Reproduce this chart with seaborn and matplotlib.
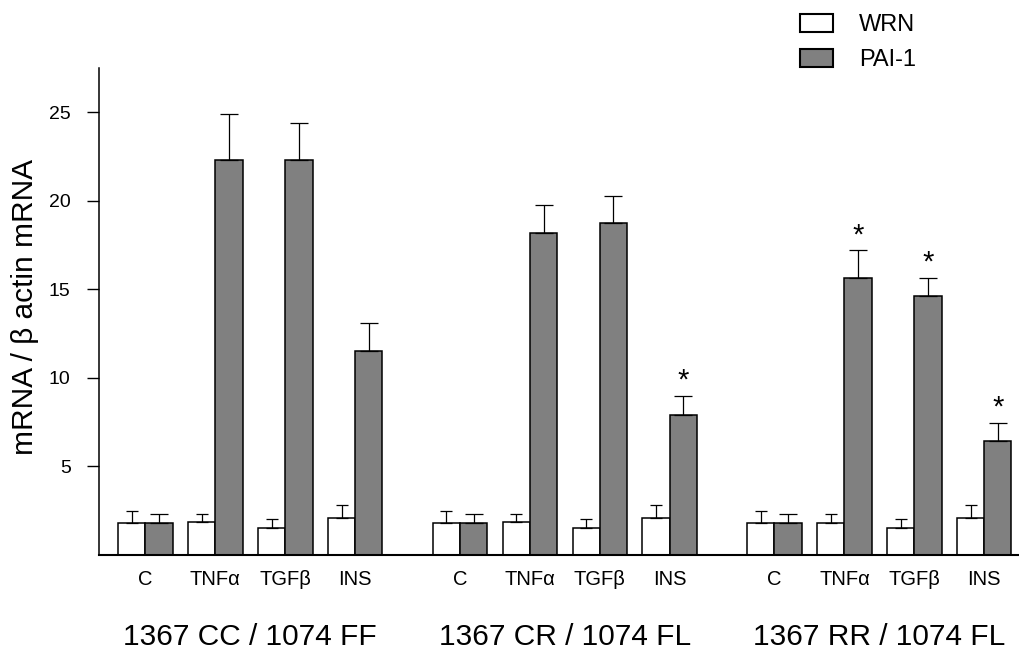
import numpy as np
import pandas as pd
import seaborn as sns
import matplotlib.pyplot as plt
import matplotlib.transforms as mtransforms
from matplotlib.patches import Patch

sns.set_style("white")
plt.rcParams['font.family'] = ['Liberation Sans', 'DejaVu Sans']
plt.rcParams['text.color'] = 'black'
plt.rcParams['axes.labelcolor'] = 'black'
plt.rcParams['xtick.color'] = 'black'
plt.rcParams['ytick.color'] = 'black'

# data
conditions = ['C', 'TNFα', 'TGFβ', 'INS']
genotypes = ['1367 CC / 1074 FF', '1367 CR / 1074 FL', '1367 RR / 1074 FL']
wrn_mean = [1.82, 1.84, 1.52, 2.10, 1.80, 1.84, 1.50, 2.10, 1.80, 1.82, 1.50, 2.10]
wrn_err = [0.68, 0.47, 0.49, 0.74, 0.70, 0.47, 0.51, 0.74, 0.70, 0.49, 0.51, 0.74]
pai_mean = [1.82, 22.33, 22.33, 11.54, 1.80, 18.21, 18.72, 7.91, 1.80, 15.66, 14.62, 6.45]
pai_err = [0.49, 2.57, 2.07, 1.56, 0.51, 1.55, 1.54, 1.07, 0.51, 1.54, 1.04, 1.01]
pai_star = [0, 0, 0, 0, 0, 0, 0, 1, 0, 1, 1, 1]

# x positions: 4 treatments per genotype, gap between genotypes
pos = np.array([g * 4.5 + i for g in range(3) for i in range(4)])
half = 0.195

df = pd.DataFrame({
    'pos': np.concatenate([pos, pos]),
    'value': wrn_mean + pai_mean,
    'gene': ['WRN'] * 12 + ['PAI-1'] * 12,
})

fig = plt.figure(figsize=(10.19, 6.5), dpi=100)
ax = fig.add_axes([0.0975, 0.1462, 0.9026, 0.7492])

sns.barplot(data=df, x='pos', y='value', hue='gene', hue_order=['WRN', 'PAI-1'],
            palette={'WRN': 'white', 'PAI-1': '#808080'}, native_scale=True,
            width=0.78, gap=0, errorbar=None, edgecolor='black', linewidth=1.1,
            saturation=1, legend=False, ax=ax)

# upper error bars only
ax.errorbar(pos - half, wrn_mean, yerr=[np.zeros(12), wrn_err], fmt='none',
            ecolor='black', elinewidth=0.9, capsize=4.5, capthick=0.9)
ax.errorbar(pos + half, pai_mean, yerr=[np.zeros(12), pai_err], fmt='none',
            ecolor='black', elinewidth=0.9, capsize=6.8, capthick=0.9)

for x, m, e, s in zip(pos, pai_mean, pai_err, pai_star):
    if s:
        ax.text(x + half, m + e + 0.4, '*', ha='center', va='baseline', fontsize=21)

ax.set_xlim(-0.66, 12.5)
ax.set_ylim(0, 27.5)
ax.set_yticks([5, 10, 15, 20, 25])
ax.tick_params(axis='y', direction='out', length=8.6, width=1.0, labelsize=14, pad=12, left=True)
ax.set_xticks(pos, conditions * 3)
ax.tick_params(axis='x', length=0, labelsize=14.5, pad=11)
ax.set_xlabel('')
ax.set_ylabel('mRNA / β actin mRNA', fontsize=21.5)
ax.yaxis.label.set_va('center')
ax.yaxis.set_label_coords(-0.0804, 0.509)

for side in ['top', 'right']:
    ax.spines[side].set_visible(False)
ax.spines['left'].set_linewidth(1.1)
ax.spines['bottom'].set_linewidth(1.5)
ax.spines['left'].set_color('black')
ax.spines['bottom'].set_color('black')

trans = mtransforms.blended_transform_factory(ax.transData, ax.transAxes)
for g, name in enumerate(genotypes):
    ax.text(pos[g * 4:g * 4 + 4].mean(), -0.168, name, transform=trans,
            ha='center', va='center', fontsize=21.5)

handles = [Patch(facecolor='white', edgecolor='black', linewidth=1.5),
           Patch(facecolor='#808080', edgecolor='black', linewidth=1.5)]
fig.legend(handles, ['WRN', 'PAI-1'], loc='upper left', bbox_to_anchor=(0.785, 0.978),
           frameon=False, fontsize=17, handlelength=1.4, handleheight=0.74,
           handletextpad=1.1, labelspacing=0.55, borderpad=0, borderaxespad=0)

fig.savefig('out.png', dpi=100)
